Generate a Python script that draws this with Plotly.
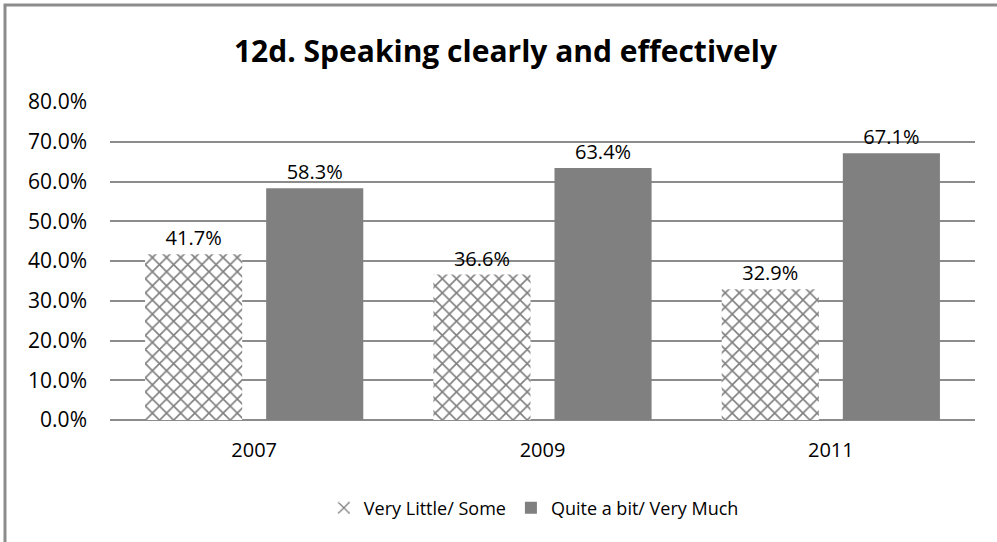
import plotly.graph_objects as go

years = ["2007", "2009", "2011"]
little_some = [41.7, 36.6, 32.9]
quite_much = [58.3, 63.4, 67.1]
y_ticks = [0, 10, 20, 30, 40, 50, 60, 70, 80]

FONT = "'Open Sans', Lato, sans-serif"

fig = go.Figure()

fig.add_trace(go.Bar(
    name="Very Little/ Some",
    x=years, y=little_some,
    text=["%.1f%%" % v for v in little_some],
    textposition="outside",
    textfont=dict(size=20, color="#000000"),
    marker=dict(color="#ffffff",
                line=dict(width=0),
                pattern=dict(shape="x", fgcolor="#000000", bgcolor="#ffffff",
                             size=10, solidity=0.3, fillmode="overlay")),
    cliponaxis=False,
))

fig.add_trace(go.Bar(
    name="Quite a bit/ Very Much",
    x=years, y=quite_much,
    text=["%.1f%%" % v for v in quite_much],
    textposition="outside",
    textfont=dict(size=20, color="#000000"),
    marker=dict(color="#808080", line=dict(width=0)),
    cliponaxis=False,
))

fig.update_layout(
    width=997, height=542,
    margin=dict(l=110, r=22, t=102, b=122),
    paper_bgcolor="#ffffff",
    plot_bgcolor="#ffffff",
    font=dict(family=FONT, size=19, color="#000000"),
    title=dict(text="<b>12d. Speaking clearly and effectively</b>",
               x=0.507, xanchor="center", y=0.905, yanchor="middle",
               font=dict(size=30, family=FONT, color="#000000")),
    barmode="group",
    bargap=0.16,
    bargroupgap=0.198,
    showlegend=True,
    legend=dict(orientation="h", x=0.49, xanchor="center", y=-0.277, yanchor="middle",
                font=dict(size=18), itemwidth=30, traceorder="normal"),
)

fig.update_yaxes(
    range=[0, 80], tickvals=y_ticks,
    ticktext=["%.1f%%" % v for v in y_ticks],
    showgrid=True, gridcolor="#8c8c8c", gridwidth=2,
    zeroline=True, zerolinecolor="#8c8c8c", zerolinewidth=2,
    ticks="", ticklabelstandoff=22,
    tickfont=dict(size=21),
)
fig.update_xaxes(
    showgrid=False, showline=False, ticks="",
    ticklabelstandoff=16,
    tickfont=dict(size=20),
)

# chart border (right and bottom edges fall outside the picture)
fig.add_shape(type="rect", xref="paper", yref="paper",
              x0=-0.1214, x1=1.2, y0=-0.6, y1=1.305,
              line=dict(color="#8c8c8c", width=3), fillcolor="rgba(0,0,0,0)",
              layer="below")

# drop the default page margin so the figure sits at the window's top-left
fig.write_html("out.html", config={"displayModeBar": False},
               post_script="document.body.style.margin='0';")
